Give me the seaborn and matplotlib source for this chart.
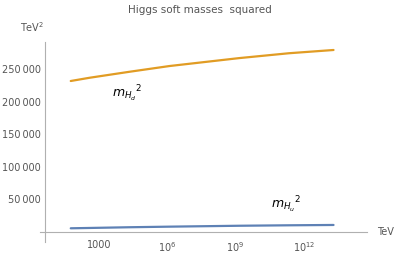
import numpy as np
import pandas as pd
import matplotlib
matplotlib.use("Agg")
import matplotlib.pyplot as plt
from matplotlib.ticker import NullFormatter
import seaborn as sns

# log10 of the scale in TeV
log_scale = [1.76, 2.59, 4.34, 6.09, 9.15, 11.34, 13.30]
m_hd_sq = [232300, 237300, 246500, 255300, 267500, 275000, 280000]
m_hu_sq = [5700, 6200, 7300, 8200, 9600, 10300, 10800]

x_ticks = [1e3, 1e6, 1e9, 1e12]
x_tick_labels = ["1000", "$10^{6}$", "$10^{9}$", "$10^{12}$"]
x_minor = [1e4, 1e7, 1e10, 1e13]
y_ticks = [50000, 100000, 150000, 200000, 250000]
y_tick_labels = ["50\u2009000", "100\u2009000", "150\u2009000", "200\u2009000", "250\u2009000"]

sns.set_style("white")
plt.rcParams['font.family'] = ['DejaVu Sans']
plt.rcParams['mathtext.fontset'] = 'dejavusans'

gray = "#555555"
axis_gray = "#b0b0b0"

df = pd.DataFrame({
    "scale": 10.0 ** np.array(log_scale),
    "Hd": m_hd_sq,
    "Hu": m_hu_sq,
})

fig = plt.figure(figsize=(3.99, 2.54), dpi=100)
ax = fig.add_axes([40 / 399, 12 / 254, (367 - 40) / 399, (242 - 42) / 254])

sns.lineplot(data=df, x="scale", y="Hd", ax=ax, color="#e19c24", lw=1.6)
sns.lineplot(data=df, x="scale", y="Hu", ax=ax, color="#5e81b5", lw=1.6)

ax.set_xscale("log")
ax.set_xlim(10 ** 0.41, 10 ** 14.77)
ax.set_ylim(-15400, 292300)

for s in ["top", "right"]:
    ax.spines[s].set_visible(False)
ax.spines["left"].set_position(("data", 10 ** 0.63))
ax.spines["bottom"].set_position(("data", 0))
for s in ["left", "bottom"]:
    ax.spines[s].set_color(axis_gray)
    ax.spines[s].set_linewidth(0.8)

ax.set_xticks(x_ticks)
ax.set_xticklabels(x_tick_labels)
ax.set_xticks(x_minor, minor=True)
ax.xaxis.set_minor_formatter(NullFormatter())
ax.set_yticks(y_ticks)
ax.set_yticklabels(y_tick_labels)
ax.set_yticks([v for v in range(10000, 290000, 10000) if v % 50000 != 0], minor=True)
ax.yaxis.set_minor_formatter(NullFormatter())

ax.tick_params(which="major", direction="in", length=4, width=0.6, color=axis_gray,
               labelsize=7, labelcolor=gray, pad=3)
ax.tick_params(which="minor", direction="in", length=2, width=0.5, color=axis_gray)
ax.tick_params(axis="x", which="major", pad=6)
ax.set_xlabel("")
ax.set_ylabel("")

fig.text(200 / 399, 1 - 10 / 254, "Higgs soft masses  squared", ha="center", va="center",
         fontsize=7.5, color=gray)
fig.text(32 / 399, 1 - 27 / 254, "TeV$^{2}$", ha="center", va="center", fontsize=7, color=gray)
fig.text(385 / 399, 1 - 232 / 254, "TeV", ha="center", va="center", fontsize=7, color=gray)
fig.text(127 / 399, 1 - 94 / 254, "$m_{H_d}{}^{2}$", ha="center", va="center", fontsize=9, color="black")
fig.text(286 / 399, 1 - 205 / 254, "$m_{H_u}{}^{2}$", ha="center", va="center", fontsize=9, color="black")

fig.savefig("out.png", dpi=100)
